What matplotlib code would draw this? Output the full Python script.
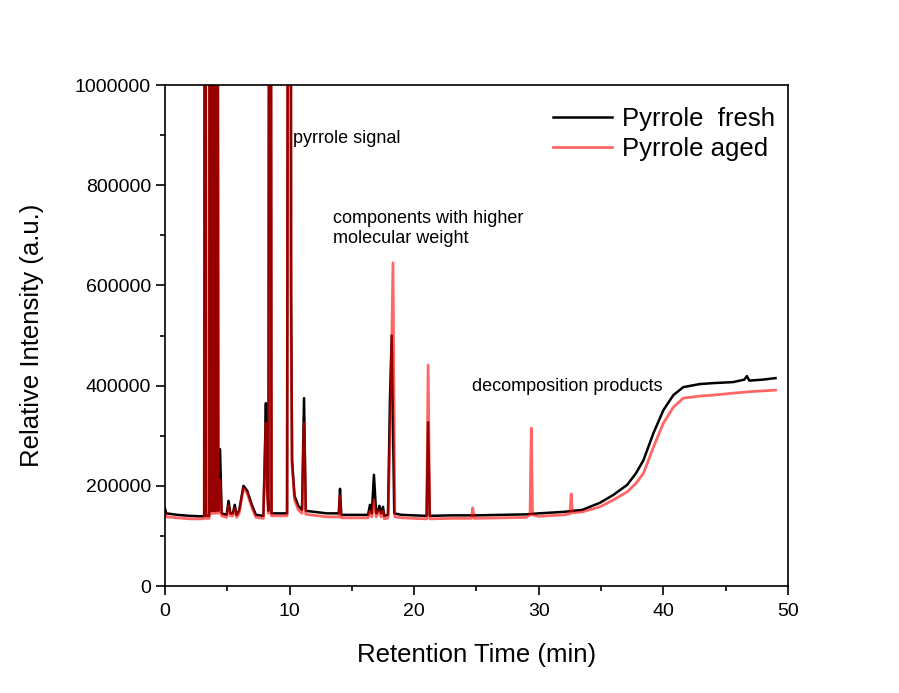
import numpy as np
import matplotlib.pyplot as plt
from matplotlib.ticker import MultipleLocator, StrMethodFormatter

plt.rcParams['font.family'] = ['Liberation Sans', 'DejaVu Sans']

# Chromatogram key points (off-scale peaks set above the axis limit)
fresh_time = [0.0, 0.1, 1.0, 2.0, 3.0, 3.15, 3.22, 3.3, 3.55, 3.62, 3.7, 3.85, 3.92, 4.0,
              4.1, 4.17, 4.28, 4.42, 4.55, 4.95, 5.1, 5.25, 5.45, 5.6, 5.75, 5.95, 6.3,
              6.6, 7.0, 7.3, 7.9, 8.05, 8.1, 8.2, 8.3, 8.43, 8.55, 9.8, 9.95, 10.05, 10.12,
              10.2, 10.4, 10.7, 11.0, 11.16, 11.3, 12.0, 13.0, 13.95, 14.05, 14.15, 15.0,
              16.3, 16.45, 16.6, 16.77, 16.95, 17.1, 17.2, 17.35, 17.5, 17.6, 17.9, 18.06,
              18.2, 18.4, 19.0, 21.0, 21.12, 21.25, 23.0, 25.0, 26.9, 29.0, 30.0, 32.0,
              33.5, 34.9, 36.0, 37.1, 37.8, 38.4, 39.2, 40.0, 40.8, 41.6, 42.9, 44.0, 45.6,
              46.5, 46.7, 46.9, 48.0, 49.0]
fresh_val = [155000, 145000, 142000, 140000, 139000, 140000, 3000000, 140000, 140000,
             3000000, 150000, 150000, 3000000, 150000, 150000, 3000000, 150000, 273000,
             145000, 142000, 170000, 145000, 145000, 162000, 142000, 150000, 200000,
             190000, 160000, 142000, 140000, 300000, 365000, 200000, 150000, 3000000,
             145000, 145000, 3000000, 3000000, 600000, 250000, 180000, 160000, 152000,
             375000, 150000, 148000, 145000, 145000, 194000, 142000, 142000, 142000,
             162000, 145000, 222000, 145000, 150000, 160000, 145000, 158000, 140000,
             142000, 377000, 500000, 145000, 142000, 140000, 327000, 140000, 141000,
             141000, 142000, 143000, 145000, 148000, 152000, 166000, 182000, 202000,
             225000, 251000, 305000, 351000, 381000, 397000, 403000, 405000, 407000,
             412000, 419000, 410000, 412000, 415000]

aged_time = [0.0, 0.1, 1.0, 2.0, 3.0, 3.15, 3.22, 3.3, 3.55, 3.62, 3.7, 3.85, 3.92, 4.0,
             4.1, 4.17, 4.28, 4.42, 4.55, 4.95, 5.1, 5.25, 5.45, 5.6, 5.75, 5.95, 6.3,
             6.6, 7.0, 7.3, 7.9, 8.1, 8.2, 8.3, 8.43, 8.55, 9.8, 9.95, 10.05, 10.12,
             10.2, 10.4, 10.7, 11.0, 11.16, 11.3, 12.0, 13.0, 13.95, 14.05, 14.15, 15.0,
             16.3, 16.45, 16.6, 16.77, 16.95, 17.1, 17.2, 17.35, 17.5, 17.6, 17.9, 18.1,
             18.3, 18.45, 19.0, 21.0, 21.12, 21.25, 23.0, 24.6, 24.7, 24.8, 26.9, 29.0,
             29.3, 29.4, 29.5, 30.0, 32.0, 32.5, 32.6, 32.7, 33.5, 34.9, 36.0, 37.1, 37.8,
             38.4, 39.2, 40.0, 40.8, 41.6, 42.9, 44.0, 45.6, 47.0, 49.0]
aged_val = [148000, 138000, 136000, 134000, 134000, 135000, 3000000, 135000, 135000,
            3000000, 145000, 145000, 3000000, 145000, 145000, 3000000, 145000, 212000,
            140000, 137000, 160000, 140000, 140000, 155000, 137000, 145000, 195000,
            185000, 155000, 137000, 135000, 325000, 190000, 145000, 3000000, 140000,
            140000, 3000000, 3000000, 550000, 240000, 172000, 152000, 145000, 325000,
            143000, 141000, 138000, 138000, 180000, 136000, 136000, 136000, 150000,
            138000, 172000, 138000, 145000, 150000, 138000, 150000, 134000, 136000,
            330000, 645000, 138000, 136000, 134000, 441000, 134000, 135000, 135000,
            156000, 135000, 136000, 137000, 142000, 315000, 142000, 139000, 142000,
            144000, 184000, 146000, 148000, 158000, 172000, 188000, 205000, 225000,
            277000, 325000, 357000, 375000, 379000, 381000, 385000, 388000, 391000]

fig = plt.figure(figsize=(8.99, 6.93), dpi=100)
ax = fig.add_axes([0.1835, 0.1544, 0.693, 0.7229])

ax.plot(fresh_time, fresh_val, color='black', linewidth=1.8, label='Pyrrole  fresh')
ax.plot(aged_time, aged_val, color='red', alpha=0.6, linewidth=2.0, label='Pyrrole aged')

ax.set_xlim(0, 50)
ax.set_ylim(0, 1000000)
ax.xaxis.set_major_locator(MultipleLocator(10))
ax.xaxis.set_minor_locator(MultipleLocator(5))
ax.yaxis.set_major_locator(MultipleLocator(200000))
ax.yaxis.set_minor_locator(MultipleLocator(100000))
ax.yaxis.set_major_formatter(StrMethodFormatter('{x:.0f}'))
ax.tick_params(which='major', direction='out', length=6.5, width=1.2, labelsize=14)
ax.tick_params(which='minor', direction='out', length=3.5, width=1.2)
ax.tick_params(axis='x', which='major', pad=6)
for s in ax.spines.values():
    s.set_linewidth(1.2)

ax.set_xlabel('Retention Time (min)', fontsize=18.5, labelpad=16)
ax.set_ylabel('Relative Intensity (a.u.)', fontsize=18.5, labelpad=22)

ax.text(10.27, 894000, 'pyrrole signal', fontsize=13, va='center', ha='left')
ax.text(13.48, 714000, 'components with higher\nmolecular weight', fontsize=13,
        va='center', ha='left')
ax.text(24.64, 399000, 'decomposition products', fontsize=13, va='center', ha='left')

ax.legend(loc='upper right', bbox_to_anchor=(1.015, 1.0), frameon=False, fontsize=18.5,
          handlelength=2.3, borderaxespad=0.45, labelspacing=0.25, handletextpad=0.4)

fig.savefig('out.png', dpi=100)
